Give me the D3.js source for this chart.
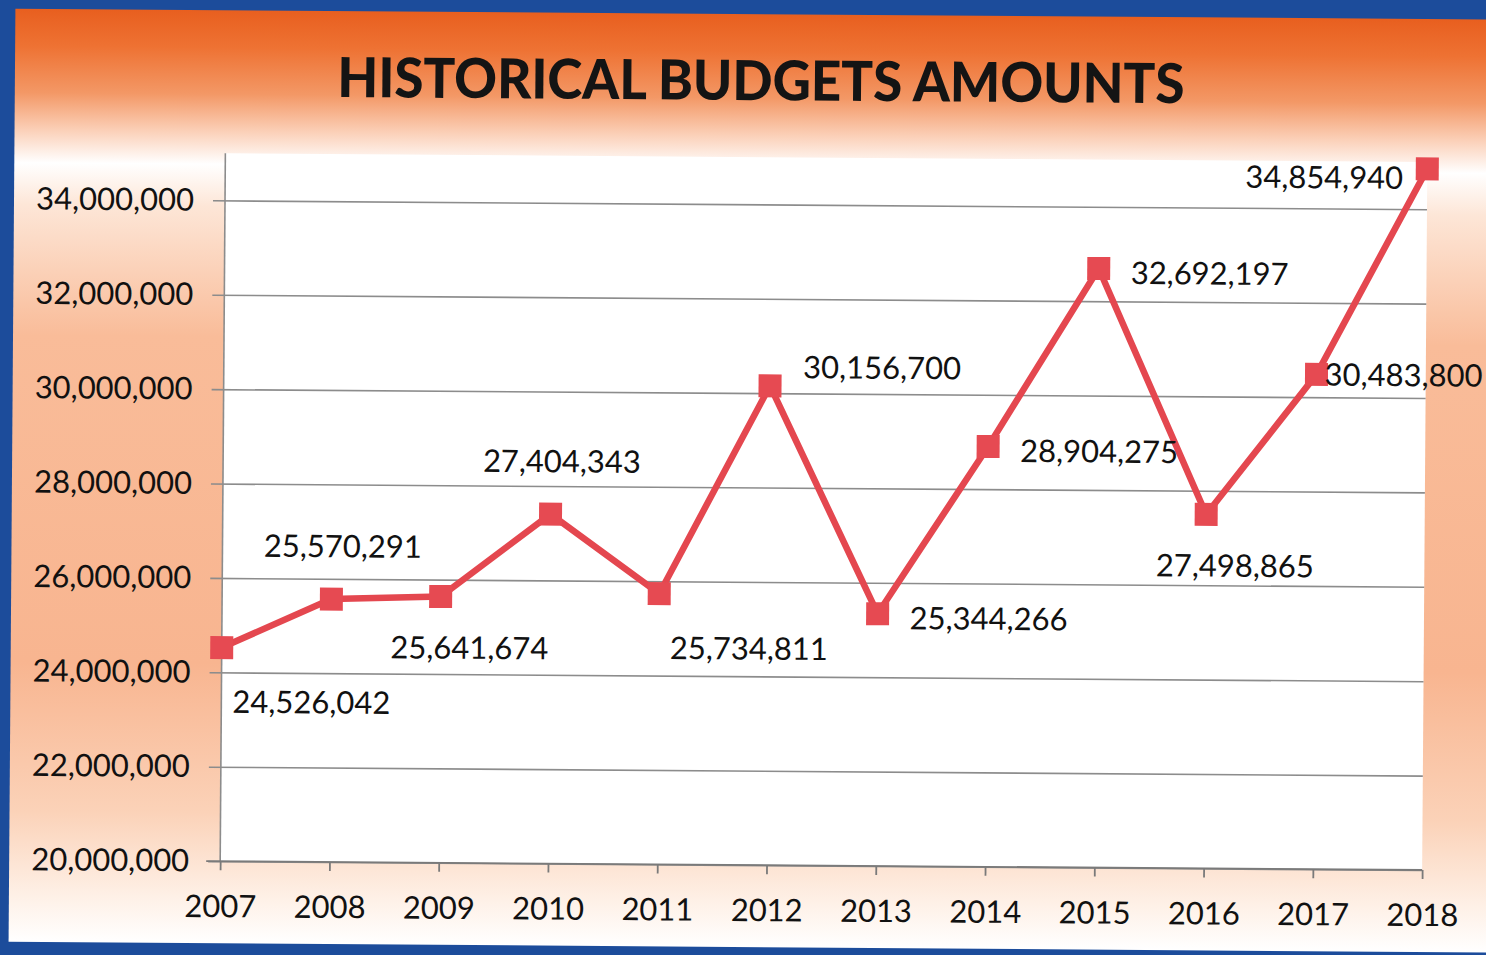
<!DOCTYPE html>
<html>
<head>
<meta charset="utf-8">
<script src="https://cdn.jsdelivr.net/npm/d3@7"></script>
<style>
  html, body { margin: 0; padding: 0; background: #1c4c9b; }
  svg { display: block; }
</style>
</head>
<body>
<div id="chart"></div>
<script>
// chart data
const years = ["2007", "2008", "2009", "2010", "2011", "2012", "2013", "2014", "2015", "2016", "2017", "2018"];
const budgets = [24526042, 25570291, 25641674, 27404343, 25734811, 30156700, 25344266, 28904275, 32692197, 27498865, 30483800, 34854940];
const yTicks = [20000000, 22000000, 24000000, 26000000, 28000000, 30000000, 32000000, 34000000];
const labelSide = ["below-right", "above", "below", "above", "below-right", "above-right", "right", "right", "right", "below", "right-near", "left"];
const title = "HISTORICAL BUDGETS AMOUNTS";

const W = 1486, H = 955;
const margin = { top: 157, right: 61, bottom: 90, left: 223 };
const width = W - margin.left - margin.right;
const height = H - margin.top - margin.bottom;

const svg = d3.select("#chart").append("svg")
  .attr("width", W)
  .attr("height", H);

// background gradient of the slide
const defs = svg.append("defs");
const grad = defs.append("linearGradient")
  .attr("id", "bg").attr("x1", 0).attr("y1", 0).attr("x2", 0).attr("y2", 1);
[
  [0, "#e85f1f"], [0.04, "#ee7233"], [0.09, "#f39866"], [0.13, "#fbd0b8"],
  [0.165, "#ffffff"], [0.21, "#fde6d7"], [0.35, "#f9bc99"], [0.7, "#f8b590"],
  [0.86, "#fbd2b8"], [0.95, "#fef0e6"], [1, "#ffffff"]
].forEach(s => grad.append("stop").attr("offset", s[0]).attr("stop-color", s[1]));

svg.append("rect").attr("width", W).attr("height", H).attr("fill", "#1c4c9b");

// the photographed slide is slightly tilted
const slide = svg.append("g").attr("transform", `rotate(0.42, ${W / 2}, ${H / 2})`);

slide.append("rect")
  .attr("x", 12).attr("y", 14)
  .attr("width", W + 20).attr("height", 933)
  .attr("fill", "url(#bg)");

slide.append("text")
  .attr("x", 758).attr("y", 100)
  .attr("text-anchor", "middle")
  .attr("font-family", "Lato, 'Open Sans', sans-serif")
  .attr("font-weight", 900)
  .attr("font-size", 55)
  .attr("fill", "#141414")
  .attr("textLength", 847)
  .attr("lengthAdjust", "spacingAndGlyphs")
  .text(title);

const g = slide.append("g").attr("transform", `translate(${margin.left}, ${margin.top})`);

const x = d3.scalePoint().domain(years).range([0, width]);
const y = d3.scaleLinear().domain([20000000, 35000000]).range([height, 0]);

// plot area
g.append("rect").attr("width", width).attr("height", height).attr("fill", "#ffffff");

// gridlines + y axis labels
const yAxis = g.append("g")
  .call(d3.axisLeft(y).tickValues(yTicks).tickSize(-width).tickPadding(31)
    .tickFormat(d3.format(",")));
yAxis.select(".domain").remove();
yAxis.selectAll(".tick line")
  .attr("x1", -12)
  .attr("stroke", "#8c8c8c").attr("stroke-width", 1.6);
yAxis.selectAll(".tick text")
  .attr("font-family", "Lato, sans-serif").attr("font-size", 31).attr("fill", "#111");

// vertical axis line
g.append("line")
  .attr("x1", 0).attr("x2", 0).attr("y1", 0).attr("y2", height)
  .attr("stroke", "#8c8c8c").attr("stroke-width", 1.6);

// x axis
const xAxis = g.append("g")
  .attr("transform", `translate(0, ${height})`)
  .call(d3.axisBottom(x).tickSize(9).tickPadding(25));
xAxis.select(".domain").attr("stroke", "#7a7a7a").attr("stroke-width", 1.8)
  .attr("d", `M-14,0H${width}`);
xAxis.selectAll(".tick line").attr("stroke", "#7a7a7a").attr("stroke-width", 1.8);
xAxis.selectAll(".tick text")
  .attr("font-family", "Lato, sans-serif").attr("font-size", 31).attr("fill", "#111");

const pts = years.map((yr, i) => ({ year: yr, value: budgets[i], side: labelSide[i] }));

// line
g.append("path")
  .datum(pts)
  .attr("fill", "none")
  .attr("stroke", "#e4474f")
  .attr("stroke-width", 6.5)
  .attr("stroke-linejoin", "miter")
  .attr("d", d3.line().x(d => x(d.year)).y(d => y(d.value)));

// markers
const ms = 23;
g.selectAll(".marker")
  .data(pts)
  .join("rect")
  .attr("class", "marker")
  .attr("x", d => x(d.year) - ms / 2)
  .attr("y", d => y(d.value) - ms / 2)
  .attr("width", ms).attr("height", ms)
  .attr("fill", "#e64a52");

// data labels
const offsets = {
  "below-right": [90, 54],
  "above": [11, -53],
  "below": [29, 51],
  "above-right": [112, -19],
  "right": [111, 4],
  "right-near": [87, 0],
  "left": [-103, 9]
};
g.selectAll(".dlabel")
  .data(pts)
  .join("text")
  .attr("class", "dlabel")
  .attr("x", d => x(d.year) + offsets[d.side][0])
  .attr("y", d => y(d.value) + offsets[d.side][1])
  .attr("dy", "0.36em")
  .attr("text-anchor", "middle")
  .attr("font-family", "Lato, sans-serif")
  .attr("font-size", 31)
  .attr("fill", "#111")
  .text(d => d3.format(",")(d.value));
</script>
</body>
</html>
